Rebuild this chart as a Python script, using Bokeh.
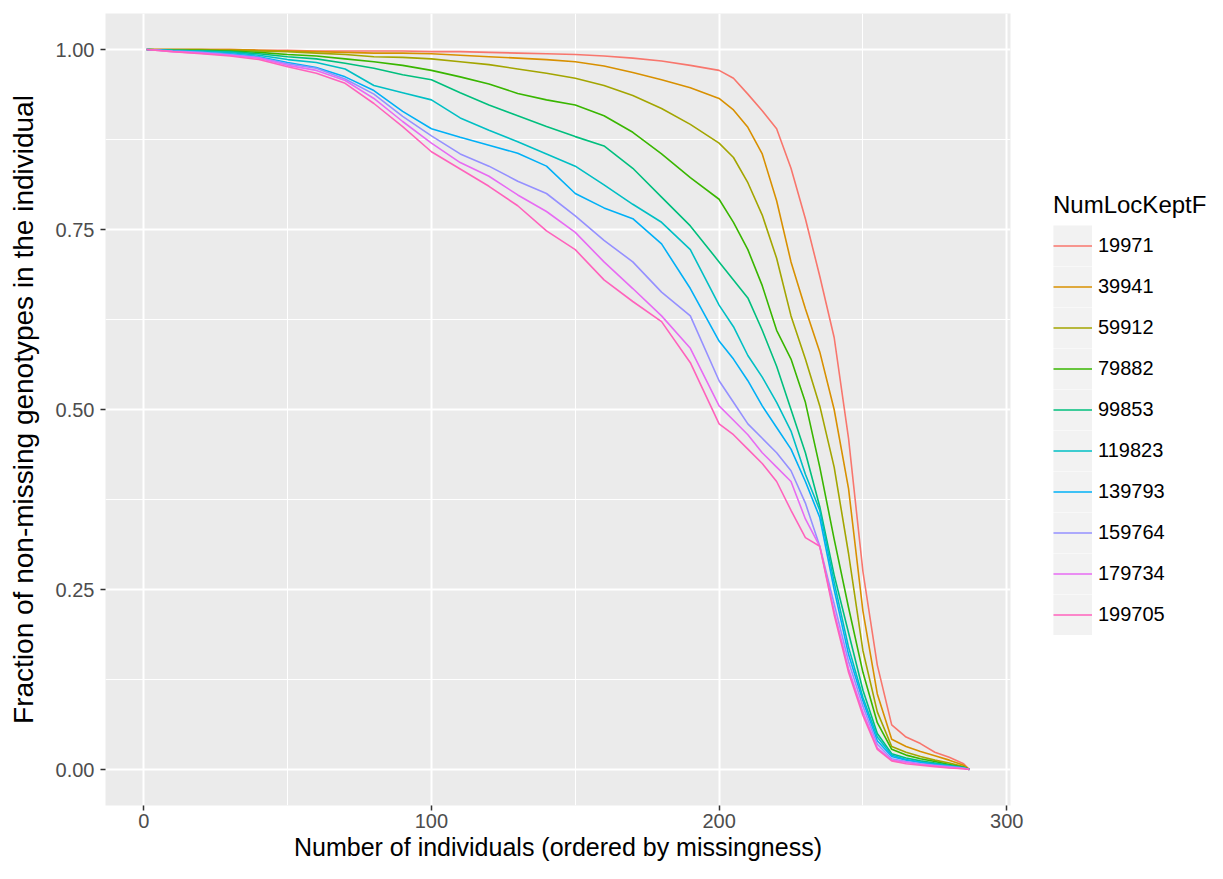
from bokeh.plotting import figure
from bokeh.layouts import row
from bokeh.models import (FixedTicker, NumeralTickFormatter, Legend, LegendItem,
                          ColumnDataSource, Range1d)
from bokeh.embed import file_html
from bokeh.resources import INLINE

# ---- data ----
individuals = [1, 10, 20, 30, 40, 50, 60, 70, 80, 90,
               100, 110, 120, 130, 140, 150, 160, 170, 180, 190,
               200, 205, 210, 215, 220, 225, 230, 235, 240, 245,
               250, 255, 260, 265, 270, 275, 280, 285, 287]

series_labels = ["19971", "39941", "59912", "79882", "99853",
                 "119823", "139793", "159764", "179734", "199705"]

frac_19971 = [1.000, 1.000, 1.000, 1.000, 0.999, 0.999, 0.998, 0.998, 0.998, 0.998,
              0.997, 0.997, 0.996, 0.995, 0.994, 0.993, 0.991, 0.988, 0.984, 0.978,
              0.971, 0.960, 0.938, 0.915, 0.890, 0.835, 0.765, 0.685, 0.600, 0.460,
              0.275, 0.145, 0.062, 0.045, 0.036, 0.024, 0.017, 0.008, 0.000]
frac_39941 = [1.000, 1.000, 1.000, 1.000, 0.999, 0.998, 0.997, 0.996, 0.995, 0.995,
              0.994, 0.992, 0.990, 0.988, 0.986, 0.983, 0.977, 0.968, 0.958, 0.947,
              0.932, 0.916, 0.892, 0.855, 0.790, 0.705, 0.640, 0.580, 0.500, 0.390,
              0.220, 0.105, 0.042, 0.032, 0.025, 0.019, 0.013, 0.006, 0.000]
frac_59912 = [1.000, 1.000, 1.000, 0.999, 0.998, 0.997, 0.995, 0.993, 0.990, 0.989,
              0.987, 0.983, 0.979, 0.973, 0.967, 0.960, 0.950, 0.936, 0.918, 0.896,
              0.870, 0.850, 0.815, 0.770, 0.710, 0.630, 0.570, 0.505, 0.420, 0.300,
              0.165, 0.080, 0.032, 0.024, 0.018, 0.013, 0.009, 0.004, 0.000]
frac_79882 = [1.000, 0.999, 0.999, 0.998, 0.996, 0.993, 0.991, 0.987, 0.983, 0.978,
              0.971, 0.962, 0.952, 0.939, 0.930, 0.923, 0.908, 0.885, 0.855, 0.822,
              0.792, 0.760, 0.722, 0.672, 0.610, 0.570, 0.510, 0.420, 0.320, 0.225,
              0.135, 0.065, 0.028, 0.020, 0.015, 0.011, 0.007, 0.003, 0.000]
frac_99853 = [1.000, 0.999, 0.998, 0.997, 0.994, 0.990, 0.987, 0.981, 0.974, 0.965,
              0.958, 0.940, 0.923, 0.908, 0.893, 0.879, 0.866, 0.835, 0.795, 0.755,
              0.705, 0.680, 0.655, 0.610, 0.560, 0.500, 0.440, 0.365, 0.270, 0.190,
              0.110, 0.050, 0.022, 0.016, 0.012, 0.009, 0.006, 0.003, 0.000]
frac_119823 = [1.000, 0.999, 0.998, 0.996, 0.992, 0.986, 0.982, 0.973, 0.950, 0.940,
               0.930, 0.905, 0.888, 0.872, 0.855, 0.838, 0.812, 0.785, 0.760, 0.722,
               0.645, 0.615, 0.575, 0.545, 0.510, 0.470, 0.410, 0.360, 0.260, 0.170,
               0.100, 0.045, 0.020, 0.014, 0.010, 0.008, 0.005, 0.002, 0.000]
frac_139793 = [1.000, 0.998, 0.996, 0.994, 0.990, 0.982, 0.975, 0.962, 0.943, 0.914,
               0.890, 0.878, 0.867, 0.856, 0.838, 0.800, 0.780, 0.765, 0.730, 0.668,
               0.595, 0.570, 0.540, 0.505, 0.475, 0.445, 0.400, 0.350, 0.250, 0.160,
               0.095, 0.040, 0.018, 0.013, 0.010, 0.007, 0.004, 0.002, 0.000]
frac_159764 = [1.000, 0.998, 0.996, 0.993, 0.989, 0.980, 0.974, 0.959, 0.938, 0.907,
               0.880, 0.855, 0.838, 0.817, 0.800, 0.769, 0.735, 0.705, 0.663, 0.630,
               0.540, 0.510, 0.480, 0.460, 0.440, 0.415, 0.370, 0.310, 0.230, 0.150,
               0.088, 0.035, 0.015, 0.011, 0.008, 0.006, 0.004, 0.002, 0.000]
frac_179734 = [1.000, 0.997, 0.995, 0.992, 0.988, 0.978, 0.971, 0.957, 0.932, 0.900,
               0.870, 0.843, 0.824, 0.798, 0.775, 0.746, 0.705, 0.668, 0.630, 0.585,
               0.505, 0.485, 0.465, 0.440, 0.420, 0.400, 0.348, 0.310, 0.220, 0.140,
               0.080, 0.030, 0.013, 0.010, 0.007, 0.005, 0.003, 0.001, 0.000]
frac_199705 = [1.000, 0.997, 0.994, 0.991, 0.986, 0.976, 0.967, 0.953, 0.925, 0.893,
               0.858, 0.834, 0.810, 0.783, 0.748, 0.722, 0.680, 0.650, 0.622, 0.565,
               0.480, 0.465, 0.445, 0.425, 0.400, 0.360, 0.322, 0.310, 0.215, 0.135,
               0.075, 0.028, 0.012, 0.008, 0.006, 0.004, 0.002, 0.001, 0.000]

series_values = [frac_19971, frac_39941, frac_59912, frac_79882, frac_99853,
                 frac_119823, frac_139793, frac_159764, frac_179734, frac_199705]

palette = ["#F8766D", "#D89000", "#A3A500", "#39B600", "#00BF7D",
           "#00BFC4", "#00B0F6", "#9590FF", "#E76BF3", "#FF62BC"]

x_major = [0, 100, 200, 300]
x_minor = [50, 150, 250]
y_major = [0.0, 0.25, 0.5, 0.75, 1.0]
y_minor = [0.125, 0.375, 0.625, 0.875]

FONT = "Liberation Sans"
NAN = float("nan")

# ---------------- main panel ----------------
p = figure(width=1030, height=863, output_backend="svg", toolbar_location=None,
           x_range=Range1d(-13.3, 301.3), y_range=Range1d(-0.05, 1.05),
           min_border_left=105, min_border_right=20, min_border_top=13,
           min_border_bottom=55,
           x_axis_label="Number of individuals (ordered by missingness)",
           y_axis_label="Fraction of non-missing genotypes in the individual")
p.background_fill_color = "#EBEBEB"
p.border_fill_color = "white"
p.outline_line_color = None

xt = FixedTicker(ticks=x_major, minor_ticks=x_minor)
yt = FixedTicker(ticks=y_major, minor_ticks=y_minor)
p.xaxis.ticker = xt
p.yaxis.ticker = yt
p.xgrid.ticker = xt
p.ygrid.ticker = yt
p.xaxis.formatter = NumeralTickFormatter(format="0")
p.yaxis.formatter = NumeralTickFormatter(format="0.00")

for g in (p.xgrid, p.ygrid):
    g.grid_line_color = "white"
    g.grid_line_width = 2
    g.minor_grid_line_color = "white"
    g.minor_grid_line_width = 1

for ax in (p.xaxis, p.yaxis):
    ax.axis_line_color = None
    ax.major_tick_line_color = "#333333"
    ax.major_tick_line_width = 1.5
    ax.major_tick_out = 5
    ax.major_tick_in = 0
    ax.minor_tick_line_color = None
    ax.major_label_text_font = FONT
    ax.major_label_text_font_size = "20px"
    ax.major_label_text_color = "#4D4D4D"
    ax.axis_label_text_font = FONT
    ax.axis_label_text_font_style = "normal"
    ax.axis_label_text_color = "black"
p.xaxis.major_label_standoff = 3
p.xaxis.axis_label_standoff = 2
p.xaxis.axis_label_text_font_size = "25px"
p.yaxis.major_label_standoff = 6
p.yaxis.axis_label_standoff = 14
p.yaxis.axis_label_text_font_size = "28px"

for vals, col in zip(series_values, palette):
    p.line(individuals, vals, line_color=col, line_width=1.6)

# ---------------- legend panel ----------------
q = figure(width=177, height=863, output_backend="svg", toolbar_location=None,
           x_range=Range1d(0, 1), y_range=Range1d(0, 1),
           x_axis_location=None, y_axis_location=None, min_border=0)
q.outline_line_color = None
q.background_fill_color = "white"
q.border_fill_color = "white"
q.grid.grid_line_color = None

# renderers that only supply the legend keys (no visible marks)
key_src = ColumnDataSource(data=dict(x=[NAN], y=[NAN]))
key_bg = q.rect(x="x", y="y", width=1, height=1, source=key_src,
                fill_color="#F2F2F2", line_color="#F2F2F2", line_width=8,
                line_join="miter")

items = []
for lab, col in zip(series_labels, palette):
    src = ColumnDataSource(data=dict(x=[NAN], y=[NAN]))
    r = q.line(x="x", y="y", source=src, line_color=col, line_width=1.6)
    items.append(LegendItem(label=lab, renderers=[key_bg, r]))

legend = Legend(items=items, title="NumLocKeptF", location=(23, 170),
                orientation="vertical")
legend.title_text_font = FONT
legend.title_text_font_size = "24px"
legend.title_text_font_style = "normal"
legend.title_text_color = "black"
legend.title_standoff = 6
legend.label_text_font = FONT
legend.label_text_font_size = "20px"
legend.label_text_color = "black"
legend.glyph_width = 39
legend.glyph_height = 41
legend.label_height = 41
legend.spacing = 0
legend.padding = 0
legend.margin = 0
legend.label_standoff = 6
legend.border_line_color = None
legend.background_fill_alpha = 0
q.add_layout(legend, "center")

layout = row(p, q)
open("out.html", "w").write(file_html(layout, INLINE))
